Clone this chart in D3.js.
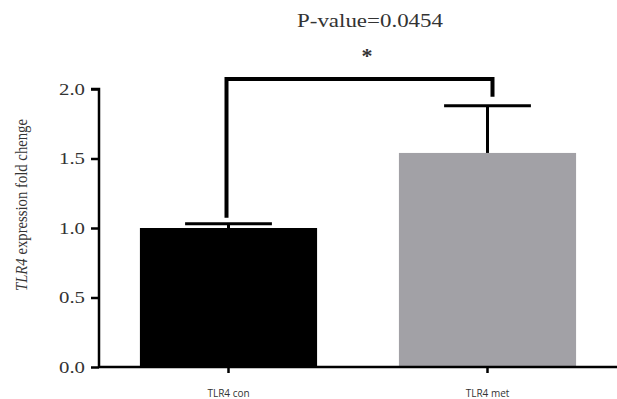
<!DOCTYPE html>
<html><head><meta charset="utf-8">
<script src="https://cdn.jsdelivr.net/npm/d3@7"></script>
<style>body{margin:0;background:#fff}svg{display:block}</style>
</head><body>
<script>
const categories = ["TLR4 con", "TLR4 met"];
const means = [1.0, 1.54];
const errors = [0.03, 0.34];
const barColors = ["#000000", "#a2a1a6"];
const yTicks = [0.0, 0.5, 1.0, 1.5, 2.0];
const pText = "P-value=0.0454";

const W = 617, H = 399;
const serif = "Liberation Serif, Times New Roman, serif";
const svg = d3.select("body").append("svg").attr("width", W).attr("height", H);
const y = d3.scaleLinear().domain([0, 2]).range([367, 89]);
const x = d3.scaleBand().domain(categories).range([99, 617]).paddingInner(0.316).paddingOuter(0.158);

// bars
svg.selectAll("rect.bar").data(categories).enter().append("rect")
  .attr("x", d => x(d)).attr("width", x.bandwidth())
  .attr("y", (d,i) => y(means[i])).attr("height", (d,i) => y(0) - y(means[i]))
  .attr("fill", (d,i) => barColors[i]);

// error bars (upper only)
categories.forEach((c, i) => {
  const cx = x(c) + x.bandwidth()/2;
  const top = y(means[i] + errors[i]);
  svg.append("line").attr("x1", cx).attr("x2", cx).attr("y1", y(means[i])).attr("y2", top)
    .attr("stroke", "#000").attr("stroke-width", 3);
  svg.append("line").attr("x1", cx - x.bandwidth()*0.245).attr("x2", cx + x.bandwidth()*0.245)
    .attr("y1", top).attr("y2", top).attr("stroke", "#000").attr("stroke-width", 3);
});

// y axis
const yAxis = d3.axisLeft(y).tickValues(yTicks).tickFormat(d3.format(".1f")).tickSize(8).tickPadding(6);
const gy = svg.append("g").attr("transform", "translate(99,0)").call(yAxis);
gy.select(".domain").attr("stroke-width", 2.5).attr("d", `M-8,${y(2)}H0V${y(0)}`);
gy.selectAll(".tick line").attr("stroke-width", 2.5);
gy.selectAll(".tick text").attr("font-family", serif).attr("font-size", 17).attr("fill", "#333")
  .attr("textLength", 26).attr("lengthAdjust", "spacingAndGlyphs");

// x axis
const xAxis = d3.axisBottom(x).tickSize(6).tickPadding(17);
const gx = svg.append("g").attr("transform", `translate(0,${y(0)})`).call(xAxis);
gx.select(".domain").attr("stroke-width", 2.5).attr("d", `M99,0H617`);
gx.selectAll(".tick line").attr("stroke-width", 2.5);
gx.selectAll(".tick text").attr("font-family", "Open Sans, DejaVu Sans, sans-serif").attr("font-size", 10).attr("fill", "#333");

// y label
const yl = svg.append("text").attr("transform", `translate(27,205) rotate(-90)`)
  .attr("text-anchor", "middle").attr("font-family", serif)
  .attr("font-size", 16).attr("fill", "#333")
  .attr("textLength", 172).attr("lengthAdjust", "spacingAndGlyphs");
yl.append("tspan").attr("font-style", "italic").text("TLR4");
yl.append("tspan").text(" expression fold chenge");

// significance bracket
const x1 = x(categories[0]) + x.bandwidth()/2, x2 = x(categories[1]) + x.bandwidth()/2 + 5;
const by = 79;
svg.append("path").attr("d", `M${x1-2},${y(means[0]+errors[0]) - 6}V${by}H${x2}V${y(means[1]+errors[1]) - 9}`)
  .attr("fill", "none").attr("stroke", "#000").attr("stroke-width", 4);

svg.append("text").attr("x", 370).attr("y", 27).attr("text-anchor", "middle")
  .attr("font-family", serif).attr("font-size", 18).attr("fill", "#333")
  .attr("textLength", 146).attr("lengthAdjust", "spacingAndGlyphs").text(pText);
svg.append("text").attr("x", 367).attr("y", 63).attr("text-anchor", "middle")
  .attr("font-family", serif).attr("font-size", 22).attr("font-weight", "bold").attr("fill", "#333").text("*");
</script>
</body></html>
